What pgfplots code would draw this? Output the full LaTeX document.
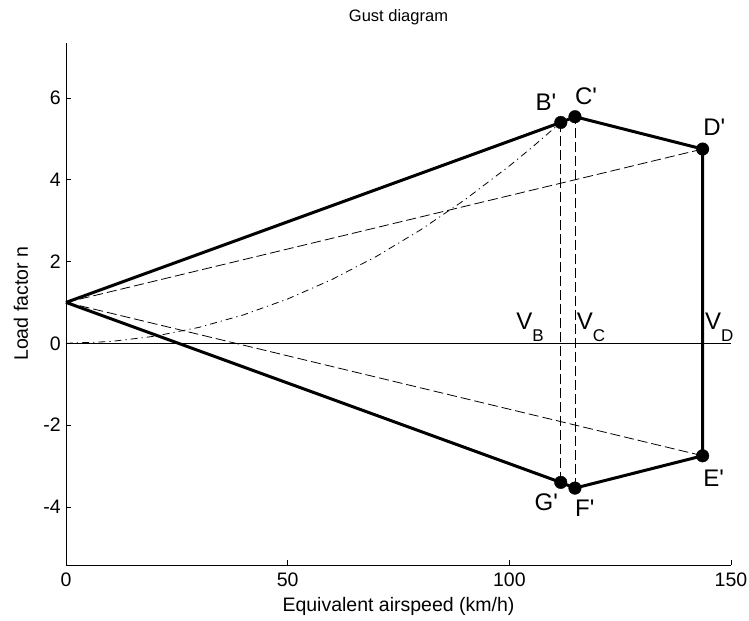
\documentclass[border=0pt]{standalone}
\usepackage{fontspec}
\setmainfont{Liberation Sans}
\newfontfamily\lab{Liberation Sans}
\usepackage{pgfplots}
\pgfplotsset{compat=1.18}
\newcommand{\Vs}[1]{{\lab V\raisebox{-11.5bp}{\fontsize{17bp}{17bp}\selectfont #1}}}
\begin{document}
\begin{tikzpicture}[x=1bp,y=1bp]
\useasboundingbox (-66,-56) rectangle (683,565);
\begin{axis}[
  scale only axis, width=665bp, height=522.3bp,
  xmin=0, xmax=150, ymin=-5.42, ymax=7.35,
  axis x line*=bottom, axis y line*=left,
  axis line style={line width=0.8bp, -},
  xtick={0,50,100,150}, ytick={-4,-2,0,2,4,6},
  tick align=inside, major tick length=5bp,
  tick style={line width=0.8bp, black},
  /pgf/number format/assume math mode=true,
  tick label style={font=\fontsize{19.5bp}{22bp}\selectfont},
  yticklabel style={anchor=east, inner sep=0pt, xshift=-5bp},
  xticklabel style={anchor=north, inner sep=0pt, yshift=-8bp},
  label style={font=\fontsize{19.5bp}{22bp}\selectfont},
  xlabel={Equivalent airspeed (km/h)},
  ylabel={Load factor n},
  xlabel style={at={(axis description cs:0.5,-0.0785)}, anchor=center},
  ylabel style={at={(axis description cs:-0.0677,0.5)}, anchor=center},
  clip=false,
]
% dashed gust lines
\addplot[black, line width=0.8bp, dash pattern=on 10bp off 4bp] coordinates {(0,1) (143.6,4.75)};
\addplot[black, line width=0.8bp, dash pattern=on 10bp off 4bp] coordinates {(0,1) (143.6,-2.75)};
\addplot[black, line width=0.8bp, dash pattern=on 10bp off 4bp] coordinates {(111.6,-3.40) (111.6,5.40)};
\addplot[black, line width=0.8bp, dash pattern=on 10bp off 4bp] coordinates {(114.8,-3.54) (114.8,5.54)};
% stall curve
\addplot[black, line width=0.8bp, dash pattern=on 7bp off 4bp on 1.2bp off 4bp] coordinates {
(0,0) (10,0.043) (20,0.173) (30,0.390) (40,0.694) (50,1.084) (60,1.561)
(70,2.124) (80,2.775) (90,3.512) (100,4.336) (105,4.780) (111.6,5.40)};
% zero line
\addplot[black, line width=0.9bp] coordinates {(0,0) (150,0)};
% gust envelope
\addplot[black, line width=3bp, line join=round] coordinates {
(0,1) (111.6,5.40) (114.8,5.54) (143.6,4.75) (143.6,-2.75) (114.8,-3.54) (111.6,-3.40) (0,1)};
\addplot[only marks, mark=*, mark size=6.3bp, black] coordinates {
(111.6,5.40) (114.8,5.54) (143.6,4.75) (143.6,-2.75) (114.8,-3.54) (111.6,-3.40)};
% title
\node[anchor=base, inner sep=0pt, font=\fontsize{16.5bp}{18bp}\selectfont] at (rel axis cs:0.5,1.0415) {Gust diagram};
% labels
\node[anchor=base east, inner sep=0pt, font=\lab\fontsize{24bp}{26bp}\selectfont] at (axis cs:110.6,5.69) {B'};
\node[anchor=base west, inner sep=0pt, font=\lab\fontsize{24bp}{26bp}\selectfont] at (axis cs:114.8,5.83) {C'};
\node[anchor=base west, inner sep=0pt, font=\lab\fontsize{24bp}{26bp}\selectfont] at (axis cs:143.7,5.09) {D'};
\node[anchor=base west, inner sep=0pt, font=\lab\fontsize{24bp}{26bp}\selectfont] at (axis cs:143.7,-3.51) {E'};
\node[anchor=base east, inner sep=0pt, font=\lab\fontsize{24bp}{26bp}\selectfont] at (axis cs:111.0,-4.08) {G'};
\node[anchor=base west, inner sep=0pt, font=\lab\fontsize{24bp}{26bp}\selectfont] at (axis cs:114.8,-4.24) {F'};
\node[anchor=base east, inner sep=0pt, font=\fontsize{24bp}{26bp}\selectfont] at (axis cs:107.8,0.33) {\Vs{B}};
\node[anchor=base west, inner sep=0pt, font=\fontsize{24bp}{26bp}\selectfont] at (axis cs:115.2,0.33) {\Vs{C}};
\node[anchor=base west, inner sep=0pt, font=\fontsize{24bp}{26bp}\selectfont] at (axis cs:144.1,0.33) {\Vs{D}};
\end{axis}
\end{tikzpicture}
\end{document}
